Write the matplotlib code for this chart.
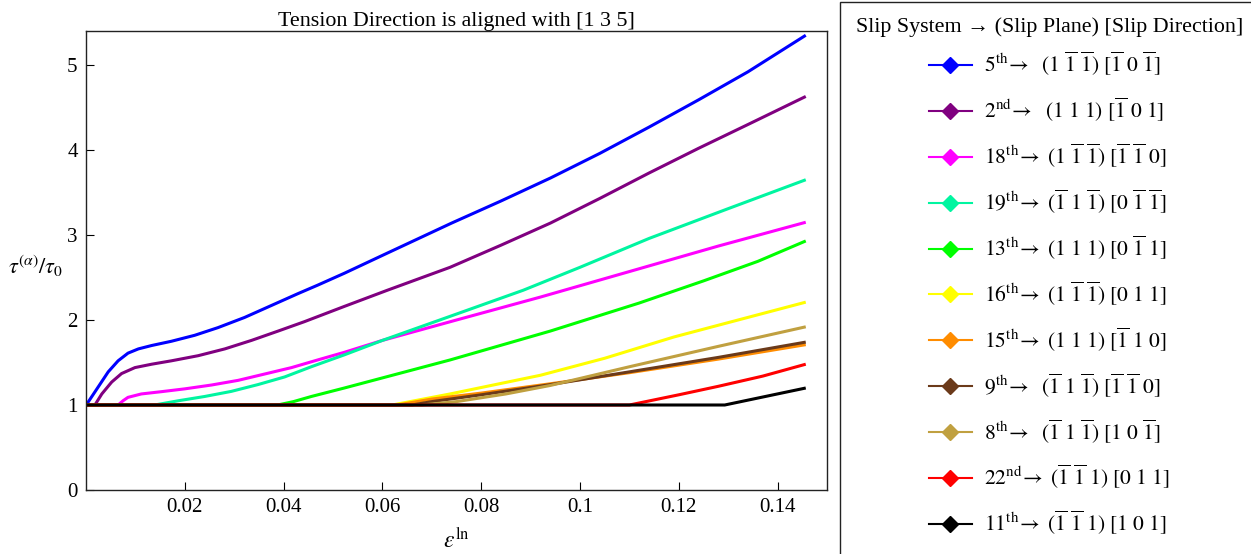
import matplotlib
matplotlib.use("Agg")
import matplotlib.pyplot as plt
from matplotlib.lines import Line2D
from matplotlib.patches import Rectangle

plt.rcParams['font.family'] = ['Liberation Serif', 'DejaVu Serif']
plt.rcParams['mathtext.fontset'] = 'stix'

# ---- data ----
eps_5 = [0, 0.0005, 0.0025, 0.0045, 0.0065, 0.0085, 0.0106, 0.0133, 0.0173, 0.022, 0.0267, 0.0321,
         0.0375, 0.0429, 0.0469, 0.0523, 0.06, 0.067, 0.074, 0.084, 0.094, 0.104, 0.114, 0.124, 0.134, 0.1457]
tau_5 = [1.0, 1.04, 1.215, 1.39, 1.52, 1.61, 1.66, 1.70, 1.75, 1.82, 1.91, 2.03,
         2.17, 2.31, 2.41, 2.55, 2.76, 2.95, 3.14, 3.40, 3.67, 3.96, 4.27, 4.59, 4.92, 5.35]

eps_2 = [0, 0.0018, 0.0032, 0.0052, 0.0072, 0.0099, 0.0133, 0.0173, 0.0227, 0.0281, 0.0335, 0.0389,
         0.0442, 0.0523, 0.061, 0.0737, 0.084, 0.094, 0.104, 0.114, 0.124, 0.134, 0.1457]
tau_2 = [1.0, 1.0, 1.13, 1.27, 1.37, 1.44, 1.48, 1.52, 1.58, 1.66, 1.76, 1.87,
         1.98, 2.16, 2.35, 2.62, 2.88, 3.14, 3.43, 3.73, 4.02, 4.30, 4.63]

eps_18 = [0, 0.0065, 0.0075, 0.0085, 0.0112, 0.0153, 0.02, 0.0254, 0.0308, 0.0362, 0.0416, 0.0469, 0.0523,
          0.06, 0.075, 0.092, 0.11, 0.128, 0.1457]
tau_18 = [1.0, 1.0, 1.05, 1.09, 1.13, 1.157, 1.19, 1.235, 1.29, 1.365, 1.44, 1.53, 1.62,
          1.76, 2.0, 2.27, 2.57, 2.87, 3.15]

eps_19 = [0, 0.0139, 0.0187, 0.024, 0.0294, 0.0348, 0.0402, 0.0456, 0.0523, 0.06, 0.075, 0.0885,
          0.1, 0.114, 0.13, 0.1457]
tau_19 = [1.0, 1.0, 1.05, 1.10, 1.16, 1.24, 1.33, 1.45, 1.59, 1.76, 2.07, 2.35,
          2.62, 2.96, 3.31, 3.65]

eps_13 = [0, 0.0388, 0.042, 0.0456, 0.0523, 0.0737, 0.094, 0.112, 0.125, 0.136, 0.1457]
tau_13 = [1.0, 1.0, 1.04, 1.10, 1.20, 1.53, 1.87, 2.20, 2.46, 2.69, 2.93]

eps_16 = [0, 0.062, 0.0737, 0.092, 0.105, 0.119, 0.132, 0.1457]
tau_16 = [1.0, 1.0, 1.13, 1.35, 1.55, 1.80, 2.00, 2.21]

eps_15 = [0, 0.063, 0.07, 0.08, 0.094, 0.11, 0.128, 0.1457]
tau_15 = [1.0, 1.0, 1.07, 1.14, 1.25, 1.38, 1.54, 1.71]

eps_9 = [0, 0.066, 0.07, 0.08, 0.094, 0.11, 0.128, 0.1457]
tau_9 = [1.0, 1.0, 1.04, 1.12, 1.24, 1.39, 1.56, 1.74]

eps_8 = [0, 0.068, 0.075, 0.085, 0.094, 0.11, 0.128, 0.1457]
tau_8 = [1.0, 1.0, 1.04, 1.13, 1.23, 1.45, 1.69, 1.92]

eps_22 = [0, 0.110, 0.12, 0.128, 0.137, 0.1457]
tau_22 = [1.0, 1.0, 1.12, 1.22, 1.34, 1.48]

eps_11 = [0, 0.1293, 0.1457]
tau_11 = [1.0, 1.0, 1.20]

series_eps = [eps_5, eps_2, eps_18, eps_19, eps_13, eps_16, eps_15, eps_9, eps_8, eps_22, eps_11]
series_tau = [tau_5, tau_2, tau_18, tau_19, tau_13, tau_16, tau_15, tau_9, tau_8, tau_22, tau_11]
colors = ['#0000FF', '#800080', '#FF00FF', '#00F5A0', '#00FF00', '#FFFF00',
          '#FF8C00', '#6B3A1A', '#C0A040', '#FF0000', '#000000']

ob = r'\overline{1}'
labels = [
    r'$5^{\rm th}\!\rightarrow\ \ (1\ %s\ %s)\ [%s\ 0\ %s]$' % (ob, ob, ob, ob),
    r'$2^{\rm nd}\!\rightarrow\ \ (1\ 1\ 1)\ [%s\ 0\ 1]$' % (ob,),
    r'$18^{\rm th}\!\rightarrow\ (1\ %s\ %s)\ [%s\ %s\ 0]$' % (ob, ob, ob, ob),
    r'$19^{\rm th}\!\rightarrow\ (%s\ 1\ %s)\ [0\ %s\ %s]$' % (ob, ob, ob, ob),
    r'$13^{\rm th}\!\rightarrow\ (1\ 1\ 1)\ [0\ %s\ 1]$' % (ob,),
    r'$16^{\rm th}\!\rightarrow\ (1\ %s\ %s)\ [0\ 1\ 1]$' % (ob, ob),
    r'$15^{\rm th}\!\rightarrow\ (1\ 1\ 1)\ [%s\ 1\ 0]$' % (ob,),
    r'$9^{\rm th}\!\rightarrow\ \ (%s\ 1\ %s)\ [%s\ %s\ 0]$' % (ob, ob, ob, ob),
    r'$8^{\rm th}\!\rightarrow\ \ (%s\ 1\ %s)\ [1\ 0\ %s]$' % (ob, ob, ob),
    r'$22^{\rm nd}\!\rightarrow\ (%s\ %s\ 1)\ [0\ 1\ 1]$' % (ob, ob),
    r'$11^{\rm th}\!\rightarrow\ (%s\ %s\ 1)\ [1\ 0\ 1]$' % (ob, ob),
]

xticks = [0.02, 0.04, 0.06, 0.08, 0.1, 0.12, 0.14]
xticklabels = ['0.02', '0.04', '0.06', '0.08', '0.1', '0.12', '0.14']
yticks = [0, 1, 2, 3, 4, 5]

fig = plt.figure(figsize=(12.51, 5.54), dpi=100)
ax = fig.add_axes([86 / 1251, 1 - 490 / 554, (827 - 86) / 1251, (490 - 31) / 554])

for e, t, c in zip(series_eps, series_tau, colors):
    ax.plot(e, t, color=c, lw=2.2, solid_capstyle='butt', solid_joinstyle='round')

ax.set_xlim(0, 0.15)
ax.set_ylim(0, 5.4)
ax.set_xticks(xticks)
ax.set_xticklabels(xticklabels)
ax.set_yticks(yticks)
ax.tick_params(direction='in', length=6, width=0.8, labelsize=15, top=False, right=False, pad=6)
for s in ax.spines.values():
    s.set_linewidth(1.0)
    s.set_color('#222222')

ax.set_title('Tension Direction is aligned with [1 3 5]', fontsize=15.8, pad=3)
ax.set_xlabel(r'$\varepsilon^{\mathrm{ln}}$', fontsize=17, va='center')
ax.xaxis.set_label_coords(0.5, -(540 - 490) / 459)
ax.set_ylabel(r'$\tau^{(\alpha)}/\tau_0$', fontsize=16, rotation=0, ha='center', va='center')
ax.yaxis.set_label_coords((36 - 86) / 741, (490 - 266) / 459)

# legend frame: open at the bottom/right edges of the figure, as in the reference
fig.patches.append(Rectangle((840 / 1251, -0.05), 0.5, 1 - 2 / 554 + 0.05,
                             transform=fig.transFigure, facecolor='white',
                             edgecolor='#222222', linewidth=1.0, zorder=0))

handles = [Line2D([0], [0], color=c, lw=1.5, marker='D', markersize=8,
                  markerfacecolor=c, markeredgecolor=c) for c in colors]
leg = fig.legend(handles, labels, loc='upper left',
                 bbox_to_anchor=(840 / 1251, 1 - 2 / 554),
                 title='Slip System \u2192 (Slip Plane) [Slip Direction]',
                 title_fontsize=15.8, fontsize=15.5, frameon=False,
                 handlelength=2.0, labelspacing=0.83,
                 borderpad=0.72, handletextpad=0.55, borderaxespad=0)
leg._legend_box.align = 'center'
leg._legend_box.sep = 9.5  # gap between legend title and first entry (points)

fig.savefig('out.png', dpi=100)
